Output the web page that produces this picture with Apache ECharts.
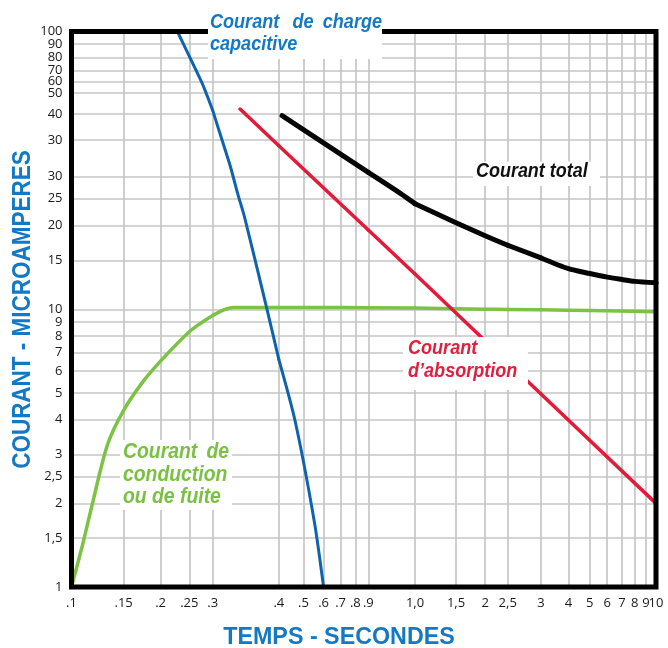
<!DOCTYPE html>
<html><head><meta charset="utf-8">
<script src="https://cdn.jsdelivr.net/npm/echarts@6/dist/echarts.min.js"></script>
<style>html,body{margin:0;padding:0;background:#fff}#c{width:668px;height:648px}</style>
</head><body><div id="c"></div>
<script>
// ---- data ----
const xTickValues = [0.1,0.15,0.2,0.25,0.3,0.4,0.5,0.6,0.7,0.8,0.9,1,1.5,2,2.5,3,4,5,6,7,8,9,10];
const xTickLabels = ['.1','.15','.2','.25','.3','.4','.5','.6','.7','.8','.9','1,0','1,5','2','2,5','3','4','5','6','7','8','9','10'];
const yTickValues = [1,1.5,2,2.5,3,4,5,6,7,8,9,10,15,20,25,30,40.6,50.5,60,66,72.5,80.5,90,100];
const yTickLabels = ['1','1,5','2','2,5','3','4','5','6','7','8','9','10','15','20','25','30','30','40','50','60','70','80','90','100'];

const chargeCapacitive = [[0.228,100],[0.2535,79],[0.2765,65],[0.3,52],[0.312,41],[0.3235,33],[0.335,25.8],[0.345,21.3],[0.3795,10.1],[0.4,6.6],[0.464,3.95],[0.553,1.7],[0.6,1]];
const conductionFuite = [[0.1,1],[0.109,1.42],[0.1172,1.96],[0.1323,3.25],[0.1494,4.29],[0.1752,5.52],[0.2054,6.71],[0.2535,8.4],[0.3,9.5],[0.314,9.93],[0.328,10.15],[0.4,10.15],[0.6,10.15],[0.9,10.12],[1,10.1],[2,10.0],[2.5,9.98],[3,9.96],[5,9.9],[10,9.8]];
const absorption = [[0.338,52.6],[0.4,38.8],[0.9,19.3],[1,13.4],[2.5,6.45],[3,4.95],[10,2.0]];
const courantTotal = [[0.412,49.8],[0.9,31.1],[0.9667,26.2],[1,24],[1.5,20.5],[2,18.4],[2.5,17.0],[3,15.3],[4,14.0],[5,13.45],[6,13.05],[7,12.8],[8,12.6],[10,12.45]];

// ---- layout ----
const W = 668, H = 648;
const TOP = 31.5, BOTTOM = 587, LEFT = 71.5, RIGHT = 656;
// the reference's time axis is hand drawn (uneven decades): emulate it with several log axes side by side
const pieces = [
  {from:0.1, to:0.3, l:71.5,  r:212.7},
  {from:0.3, to:0.4, l:212.7, r:278.8},
  {from:0.4, to:0.9, l:278.8, r:368.3},
  {from:0.9, to:1,   l:368.3, r:415},
  {from:1,   to:2.5, l:415,   r:507.7},
  {from:2.5, to:3,   l:507.7, r:541},
  {from:3,   to:10,  l:541,   r:656}
];
const tickFont = '"Open Sans", "Liberation Sans", sans-serif';
const labFont = '"Liberation Sans", Arial, sans-serif';
const BLUE_T = '#1479c4';

const grids = [], xAxes = [], yAxes = [], series = [];
const hidden = {axisLine:{show:false},axisTick:{show:false},axisLabel:{show:false},splitLine:{show:false}};

pieces.forEach((p, k) => {
  grids.push({left:p.l, right:W - p.r, top:TOP, bottom:H - BOTTOM, containLabel:false});
  xAxes.push(Object.assign({type:'log', gridIndex:k, min:p.from, max:p.to, logBase:10}, hidden));
  yAxes.push(Object.assign({type:'log', gridIndex:k, min:1, max:100, logBase:10}, hidden));
});
// overlay grid for horizontal gridlines and frame
const OV = pieces.length;
grids.push({left:LEFT, right:W - RIGHT, top:TOP, bottom:H - BOTTOM, show:true, borderColor:'#000', borderWidth:5, backgroundColor:'transparent', z:10});
xAxes.push(Object.assign({type:'value', gridIndex:OV, min:0, max:1}, hidden));
yAxes.push(Object.assign({type:'log', gridIndex:OV, min:1, max:100, logBase:10}, hidden));

const gridLineStyle = {color:'#c6c6c6', width:1.7, type:'solid'};

// vertical gridlines + x labels
pieces.forEach((p, k) => {
  const items = [];
  xTickValues.forEach((v, i) => {
    const inPiece = (v >= p.from && v < p.to) || (k === pieces.length - 1 && v === p.to);
    if (inPiece) items.push({xAxis: v, label: {formatter: xTickLabels[i]}});
  });
  series.push({
    type:'line', xAxisIndex:k, yAxisIndex:k, data:[], silent:true,
    markLine:{
      silent:true, symbol:['none','none'], z:1, animation:false,
      lineStyle:gridLineStyle,
      label:{show:true, position:'start', distance:10, color:'#1a1a1a', fontSize:13, fontFamily:tickFont},
      emphasis:{disabled:true},
      data:items
    }
  });
});
// horizontal gridlines + y labels
series.push({
  type:'line', xAxisIndex:OV, yAxisIndex:OV, data:[], silent:true,
  markLine:{
    silent:true, symbol:['none','none'], z:1, animation:false,
    lineStyle:gridLineStyle,
    label:{show:true, position:'start', distance:9, color:'#1a1a1a', fontSize:13, fontFamily:tickFont},
    emphasis:{disabled:true},
    data:yTickValues.map((v, i) => ({yAxis: v, label: {formatter: yTickLabels[i]}}))
  }
});

// points of a curve that fall in one piece (a neighbour is kept only when no point sits on the edge)
function slice(points, from, to) {
  const idx = [];
  points.forEach((pt, i) => { if (pt[0] >= from && pt[0] <= to) idx.push(i); });
  if (!idx.length) {
    for (let i = 0; i < points.length - 1; i++) if (points[i][0] < from && points[i+1][0] > to) return [points[i], points[i+1]];
    return null;
  }
  let a = idx[0], b = idx[idx.length - 1];
  if (points[a][0] > from && a > 0) a -= 1;
  if (points[b][0] < to && b < points.length - 1) b += 1;
  return points.slice(a, b + 1);
}
const curves = [
  {name:'Courant de conduction ou de fuite', data:conductionFuite, color:'#7cc243', width:3.5, smooth:0.3, z:2},
  {name:"Courant d'absorption", data:absorption, color:'#e31b3b', width:3.5, smooth:false, z:3},
  {name:'Courant de charge capacitive', data:chargeCapacitive, color:'#0d63ad', width:3, smooth:0.25, z:4},
  {name:'Courant total', data:courantTotal, color:'#050505', width:5, smooth:0.25, z:4}
];
curves.forEach(c => {
  pieces.forEach((p, k) => {
    const d = slice(c.data, p.from, p.to);
    if (!d || d.length < 2) return;
    series.push({
      name:c.name, type:'line', xAxisIndex:k, yAxisIndex:k, data:d, showSymbol:false, symbol:'none',
      smooth:c.smooth, clip:true, z:c.z, silent:true,
      lineStyle:{color:c.color, width:c.width, cap:'round', join:'round'}
    });
  });
});

function txt(text, x, y, size, color, opts) {
  opts = opts || {};
  return {
    type:'text', x:x, y:y, z:101, scaleX:opts.sx || 1, rotation:opts.rot || 0,
    style:{text:text, fill:color, fontSize:size, fontWeight:'bold', fontStyle:opts.italic === false ? 'normal' : 'italic',
      fontFamily:labFont, align:opts.align || 'left', textAlign:opts.align || 'left',
      verticalAlign:'middle', textVerticalAlign:'middle'}
  };
}
function box(x, y, w, h) {
  return {type:'rect', shape:{x:x, y:y, width:w, height:h}, style:{fill:'#fff'}, z:100};
}
const graphics = [
  box(208, 0, 174, 59),
  txt('Courant', 210, 22.5, 21, BLUE_T, {sx:0.86}),
  txt('de', 303, 22.5, 21, BLUE_T, {sx:0.86, align:'center'}),
  txt('charge', 382, 22.5, 21, BLUE_T, {sx:0.86, align:'right'}),
  txt('capacitive', 210, 44.5, 21, BLUE_T, {sx:0.86}),

  box(473, 161.5, 127, 24.5),
  txt('Courant total', 476, 171.5, 21, '#111', {sx:0.855}),

  box(403, 337, 125, 53),
  txt('Courant', 408, 348.5, 21, '#e0203f', {sx:0.86}),
  txt("d\u2019absorption", 408, 371, 21, '#e0203f', {sx:0.86}),

  box(120, 440, 112, 70),
  txt('Courant', 123, 452, 22, '#7ac143', {sx:0.88}),
  txt('de', 229, 452, 22, '#7ac143', {sx:0.88, align:'right'}),
  txt('conduction', 123, 475, 22, '#7ac143', {sx:0.88}),
  txt('ou de fuite', 123, 497, 22, '#7ac143', {sx:0.88}),

  txt('TEMPS - SECONDES', 339, 637, 24, BLUE_T, {italic:false, align:'center', sx:0.97}),
  txt('COURANT - MICROAMPERES', 23.5, 309.5, 25, BLUE_T, {italic:false, align:'center', sx:0.9, rot:Math.PI/2})
];

const chart = echarts.init(document.getElementById('c'), null, {renderer:'canvas'});
chart.setOption({
  animation:false,
  backgroundColor:'#fff',
  grid:grids, xAxis:xAxes, yAxis:yAxes, series:series,
  graphic:{elements:graphics}
});
</script></body></html>
